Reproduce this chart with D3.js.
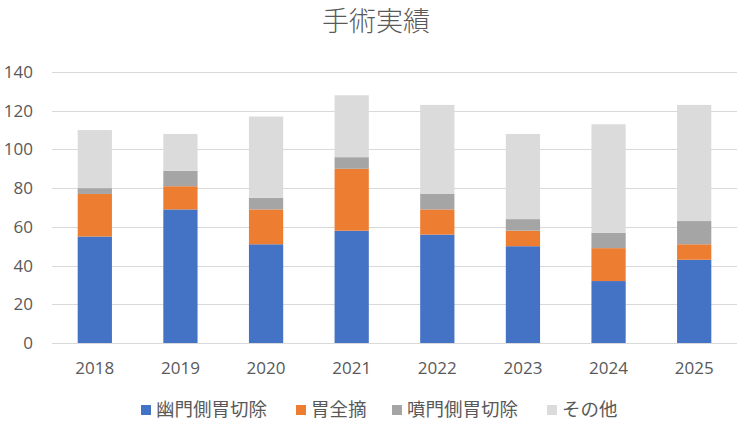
<!DOCTYPE html>
<html>
<head>
<meta charset="utf-8">
<script src="https://cdn.jsdelivr.net/npm/d3@7"></script>
<style>
  body { margin: 0; background: #fff; }
  text { font-family: 'Open Sans', 'Noto Sans CJK JP', sans-serif; fill: #595959; }
</style>
</head>
<body>
<div class="chart"></div>
<script>
const years = ['2018', '2019', '2020', '2021', '2022', '2023', '2024', '2025'];
const seriesNames = ['幽門側胃切除', '胃全摘', '噴門側胃切除', 'その他'];
const pyloric = [55, 69, 51, 58, 56, 50, 32, 43];
const totalGastrectomy = [22, 12, 18, 32, 13, 8, 17, 8];
const proximal = [3, 8, 6, 6, 8, 6, 8, 12];
const others = [30, 19, 42, 32, 46, 44, 56, 60];
const yTicks = [0, 20, 40, 60, 80, 100, 120, 140];
const colors = ['#4472C4', '#ED7D31', '#A5A5A5', '#DBDBDB'];

const rows = years.map((y, i) => ({
  year: y,
  [seriesNames[0]]: pyloric[i],
  [seriesNames[1]]: totalGastrectomy[i],
  [seriesNames[2]]: proximal[i],
  [seriesNames[3]]: others[i],
}));

const W = 746, H = 422;
const margin = { top: 72, right: 9, bottom: 79, left: 52 },
  width = W - margin.left - margin.right,
  height = H - margin.top - margin.bottom;

const root = d3.select('.chart').append('svg')
  .attr('width', W)
  .attr('height', H);

// title
root.append('text')
  .attr('x', 376)
  .attr('y', 31)
  .attr('text-anchor', 'middle')
  .style('font-family', "'Noto Sans CJK JP', sans-serif")
  .style('font-size', '27px')
  .style('font-weight', 300)
  .text('手術実績');

const svg = root.append('g')
  .attr('transform', 'translate(' + margin.left + ',' + margin.top + ')');

const x = d3.scaleBand().domain(years).range([0, width]).paddingInner(0.6).paddingOuter(0.3);
const y = d3.scaleLinear().domain([0, 140]).range([height, 0]);

// gridlines
svg.append('g')
  .selectAll('line')
  .data(yTicks)
  .enter()
  .append('line')
  .attr('x1', 0)
  .attr('x2', width)
  .attr('y1', (d) => Math.round(y(d)) + 0.5)
  .attr('y2', (d) => Math.round(y(d)) + 0.5)
  .attr('stroke', '#D9D9D9')
  .attr('stroke-width', 1);

// y labels
svg.append('g')
  .selectAll('text')
  .data(yTicks)
  .enter()
  .append('text')
  .attr('x', -19)
  .attr('y', (d) => y(d))
  .attr('dy', '0.35em')
  .attr('text-anchor', 'end')
  .style('font-size', '17px')
  .text((d) => d);

// x labels
svg.append('g')
  .selectAll('text')
  .data(years)
  .enter()
  .append('text')
  .attr('x', (d) => x(d) + x.bandwidth() / 2)
  .attr('y', height + 25)
  .attr('dy', '0.35em')
  .attr('text-anchor', 'middle')
  .style('font-size', '17px')
  .text((d) => d);

const stack = d3.stack().keys(seriesNames);
const layers = stack(rows);

svg.append('g')
  .selectAll('g')
  .data(layers)
  .enter()
  .append('g')
  .attr('fill', (d, i) => colors[i])
  .selectAll('rect')
  .data((d) => d)
  .enter()
  .append('rect')
  .attr('x', (d) => x(d.data.year))
  .attr('width', x.bandwidth())
  .attr('y', (d) => y(d[1]))
  .attr('height', (d) => y(d[0]) - y(d[1]));

// legend
const legendX = [141, 296, 392, 547];
const legend = root.append('g')
  .selectAll('g')
  .data(seriesNames)
  .enter()
  .append('g')
  .attr('transform', (d, i) => `translate(${legendX[i]},405)`);
legend.append('rect')
  .attr('width', 10)
  .attr('height', 10)
  .attr('fill', (d, i) => colors[i]);
legend.append('text')
  .attr('x', 15)
  .attr('y', 5)
  .attr('dy', '0.35em')
  .style('font-family', "'Noto Sans CJK JP', sans-serif")
  .style('font-size', '18.5px')
  .text((d) => d);
</script>
</body>
</html>
